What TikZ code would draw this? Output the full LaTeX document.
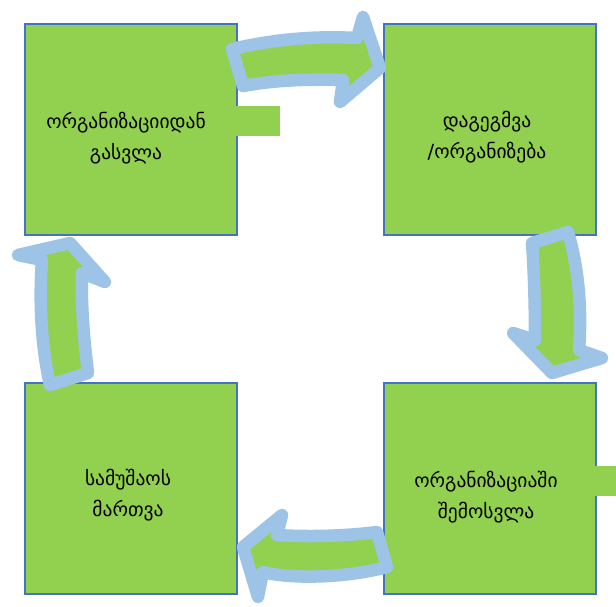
\documentclass[tikz,border=0pt]{standalone}
\usepackage{fontspec}
\newfontfamily\geo{DejaVu Sans}
\definecolor{boxgreen}{HTML}{92D050}
\definecolor{boxblue}{HTML}{4472C4}
\definecolor{arrowblue}{HTML}{9DC3E6}
\begin{document}
\begin{tikzpicture}[x=1pt,y=-1pt,
  box/.style={draw=boxblue, line width=1.5pt, fill=boxgreen, minimum width=212pt, minimum height=211pt, anchor=north west, inner sep=0pt},
  lab/.style={font=\geo\fontsize{19.5}{31}\selectfont, align=center, text=black},
  bigarrow/.style={draw=arrowblue, fill=boxgreen, line width=12.5pt, line join=round},
  tab/.style={fill=boxgreen}]
\useasboundingbox (0,0) rectangle (616,606);
% squares
\node[box] (tl) at (24,23) {};
\node[box] (tr) at (383,23) {};
\node[box] (br) at (383,382) {};
\node[box] (bl) at (24,382) {};
% text-box tabs
\fill[tab] (235,106) rectangle (280,136);
\fill[tab] (594,466) rectangle (616,496);
% curved arrows
\draw[bigarrow] (232,49) .. controls (280,38) and (320,36) .. (357,38) -- (363,17) -- (380,68) -- (340,102) -- (343,80) .. controls (310,79) and (275,80) .. (243,86) -- cycle;
\draw[bigarrow] (532,243) -- (568,232) .. controls (579,270) and (582,310) .. (579,350) -- (602,358) -- (552,373) -- (513,333) -- (535,340) .. controls (535,305) and (534,270) .. (532,243) -- cycle;
\draw[bigarrow] (377,532) -- (387,567) .. controls (350,577) and (295,580) .. (263,572) -- (258,597) -- (243,547) -- (282,515) -- (277,535) .. controls (310,537) and (345,536) .. (377,532) -- cycle;
\draw[bigarrow] (50,385) -- (88,373) .. controls (84,340) and (81,305) .. (82,273) -- (105,282) -- (70,243) -- (18,255) -- (42,260) .. controls (39,300) and (41,345) .. (50,385) -- cycle;
% labels
\node[lab] (tlt) at (126,138) {ორგანიზაციიდან\\გასვლა};
\node[lab] (trt) at (487,137) {დაგეგმვა\\/ორგანიზება};
\node[lab] (brt) at (486,497) {ორგანიზაციაში\\შემოსვლა};
\node[lab] (blt) at (128,495) {სამუშაოს\\მართვა};
\end{tikzpicture}
\end{document}
